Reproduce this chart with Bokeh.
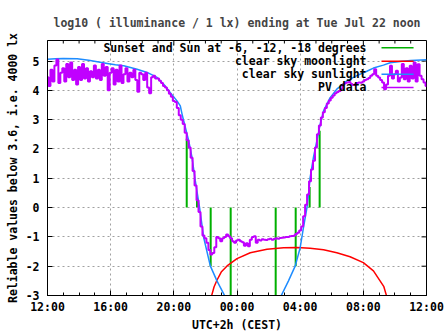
import numpy as np
from bokeh.plotting import figure
from bokeh.models import Range1d, FixedTicker, Label
from bokeh.embed import file_html
from bokeh.resources import INLINE

# ---------------- text ----------------
title_text = "log10 ( illuminance / 1 lx) ending at Tue Jul 22 noon"
x_label = "UTC+2h (CEST)"
y_label = "Reliable values below 3.6, i.e. 4000 lx"

x_tick_hours = [0, 4, 8, 12, 16, 20, 24]          # hours since 12:00
x_tick_labels = ["12:00", "16:00", "20:00", "00:00", "04:00", "08:00", "12:00"]
x_minor_hours = list(range(0, 25))
y_ticks = [-3, -2, -1, 0, 1, 2, 3, 4, 5]
y_tick_labels = ["-3", "-2", "-1", "0", "1", "2", "3", "4", "5"]

legend_labels = ["Sunset and Sun at -6, -12, -18 degrees", "clear sky moonlight",
                 "clear sky sunlight", "PV data"]

# ---------------- data ----------------
# sunset / sunrise and sun at -6, -12, -18 degrees (clock time, line top value)
sun_event_times = ["20:49", "21:28", "22:20", "23:36", "02:27", "03:43", "04:36", "05:14"]
sun_event_heights = [2.35, 0.4, -2.0, -3.0, -3.0, -2.0, 0.7, 2.62]

# clear sky sunlight, evening and morning (hours since 12:00, log10 lx)
sun_eve_h = [0.0, 0.5, 1.0, 1.88, 2.61, 3.24, 3.88, 4.30, 4.83, 5.67, 6.31, 6.94, 7.36,
             7.78, 8.20, 8.41, 8.52, 8.73, 8.94, 9.15, 9.36, 9.63, 9.89, 10.31, 10.73, 11.26]
sun_eve_v = [5.06, 5.08, 5.09, 5.08, 5.03, 4.97, 4.91, 4.87, 4.84, 4.72, 4.61, 4.44, 4.21,
             3.92, 3.64, 3.47, 3.19, 2.73, 2.28, 1.71, 0.91, 0.0, -1.02, -1.99, -2.5, -3.05]
sun_morn_h = [14.76, 15.26, 15.69, 16.0, 16.21, 16.43, 16.53, 16.63, 16.84, 17.06, 17.27,
              17.48, 17.9, 18.32, 18.96, 19.59, 20.22, 20.64, 21.27, 21.7, 22.33, 23.0, 24.0]
sun_morn_v = [-3.05, -2.5, -1.99, -1.37, -0.68, 0.0, 0.46, 1.02, 1.71, 2.28, 2.85,
              3.30, 3.75, 4.04, 4.32, 4.50, 4.65, 4.76, 4.86, 4.94, 4.98, 5.02, 5.04]

# clear sky moonlight
moon_h = [10.37, 10.55, 10.73, 11.0, 11.37, 12.0, 12.84, 13.9, 14.95, 15.8, 16.63, 17.48,
          18.32, 19.16, 20.0, 20.64, 21.06, 21.3, 21.49]
moon_v = [-3.05, -2.7, -2.48, -2.2, -1.99, -1.74, -1.54, -1.42, -1.37, -1.36, -1.39, -1.44,
          -1.54, -1.68, -1.88, -2.16, -2.5, -2.7, -3.05]

# PV data, one reading every 7.5 minutes starting 12:00
pv_start_hour = 0.0
pv_step_hours = 0.125
pv_values = [
    4.45, 4.15, 4.70, 4.30, 4.85, 5.05, 4.25, 4.60,
    4.75, 4.30, 4.90, 4.45, 4.95, 4.35, 4.70, 4.20,
    4.80, 4.35, 4.90, 4.40, 4.75, 4.30, 4.65, 4.45,
    4.85, 4.40, 4.70, 4.35, 4.90, 4.50, 4.80, 4.00,
    4.60, 4.75, 4.20, 4.70, 4.30, 4.85, 4.25, 4.55,
    4.75, 4.30, 4.60, 4.45, 4.70, 4.35, 3.95, 4.60,
    4.55, 4.35, 4.60, 4.10, 3.90, 4.45, 4.50, 4.40,
    4.40, 4.33, 4.25, 4.15, 4.10, 4.00, 3.88, 3.78,
    3.64, 3.60, 3.40, 3.15, 3.00, 2.85, 2.55, 2.30,
    2.05, 1.70, 1.25, 0.75, 0.25, -0.15, -0.65, -0.95,
    -1.05, -1.20, -1.45, -1.60, -1.55, -1.35, -1.00, -1.05,
    -1.15, -1.05, -1.00, -0.92, -0.98, -1.05, -1.15, -1.20,
    -1.12, -1.10, -1.15, -1.18, -1.30, -1.22, -1.32, -1.10,
    -1.00, -0.98, -1.20, -1.10, -1.12, -1.08, -1.10, -1.11,
    -1.08, -1.06, -1.10, -1.07, -1.05, -1.06, -1.04, -1.03,
    -1.02, -1.00, -1.00, -0.98, -0.97, -0.96, -0.90, -0.86,
    -0.78, -0.65, -0.30, 0.10, 0.45, 0.90, 1.30, 1.60,
    2.05, 2.50, 2.80, 3.07, 3.25, 3.40, 3.55, 3.65,
    3.75, 3.82, 3.90, 3.94, 3.98, 4.05, 4.20, 4.25,
    4.27, 4.28, 4.22, 4.18, 4.21, 4.25, 4.27, 4.26,
    4.30, 4.35, 4.38, 4.42, 4.50, 4.55, 4.72, 4.50,
    4.44, 4.35, 4.27, 4.04, 4.20, 4.50, 4.84, 4.40,
    4.55, 4.67, 4.30, 4.44, 4.90, 4.38, 4.75, 4.30,
    4.84, 4.40, 4.95, 4.30, 4.89, 4.50, 4.38, 4.27,
    4.15,
]

# ---------------- helpers ----------------
def hours_since_noon(clock):
    hh, mm = (int(s) for s in clock.split(":"))
    return ((hh - 12) % 24) + mm / 60.0

ev_h = [hours_since_noon(t) for t in sun_event_times]
pv_h = pv_start_hour + pv_step_hours * np.arange(len(pv_values))

FONT = "DejaVu Sans Mono"
FS = "11.5px"
C_GREEN = "#00b000"
C_RED = "#ff0000"
C_BLUE = "#1e8cff"
C_PURPLE = "#c000ff"

W, H = 447, 335
BL, BR, BT, BB = 47, 21, 40, 40
X0, X1, Y0, Y1 = 0, 24, -3, 5.7
px_per_x = (W - BL - BR) / (X1 - X0)
px_per_y = (H - BT - BB) / (Y1 - Y0)

p = figure(width=W, height=H, output_backend="svg", toolbar_location=None,
           x_range=Range1d(X0, X1), y_range=Range1d(Y0, Y1),
           min_border_left=BL, min_border_right=BR, min_border_top=BT, min_border_bottom=BB)
p.background_fill_color = "white"
p.border_fill_color = "white"
p.outline_line_color = "black"
p.outline_line_width = 1

p.title.text = title_text
p.title.align = "center"
p.title.text_font = FONT
p.title.text_font_size = FS
p.title.text_font_style = "bold"
p.title.standoff = 21

# axes
p.xaxis.ticker = FixedTicker(ticks=x_tick_hours, minor_ticks=x_minor_hours)
p.yaxis.ticker = FixedTicker(ticks=y_ticks, minor_ticks=[])
p.xaxis.major_label_overrides = {h: l for h, l in zip(x_tick_hours, x_tick_labels)}
p.yaxis.major_label_overrides = {v: l for v, l in zip(y_ticks, y_tick_labels)}
for ax in (p.xaxis[0], p.yaxis[0]):
    ax.major_label_text_font = FONT
    ax.major_label_text_font_size = FS
    ax.major_label_text_font_style = "bold"
    ax.major_label_text_color = "black"
    ax.axis_label_text_font = FONT
    ax.axis_label_text_font_size = FS
    ax.axis_label_text_font_style = "bold"
    ax.axis_label_text_color = "black"
    ax.axis_line_color = "black"
    ax.major_tick_line_color = "black"
    ax.minor_tick_line_color = "black"
    ax.major_tick_in = 5
    ax.major_tick_out = 0
    ax.minor_tick_in = 3
    ax.minor_tick_out = 0
p.xaxis.axis_label = x_label
p.yaxis.axis_label = y_label
p.xaxis.major_label_standoff = 4
p.yaxis.major_label_standoff = 8
p.xaxis.axis_label_standoff = 1
p.yaxis.axis_label_standoff = 3

# grid
p.xgrid.ticker = FixedTicker(ticks=x_tick_hours)
p.ygrid.ticker = FixedTicker(ticks=y_ticks)
for g in (p.xgrid[0], p.ygrid[0]):
    g.grid_line_color = "#a0a0a0"
    g.grid_line_dash = "2 3"
    g.grid_line_width = 1

# mirrored ticks on the top and right border
top_len = [5 if h in x_tick_hours else 3 for h in x_minor_hours]
p.segment(x0=x_minor_hours, y0=[Y1] * len(x_minor_hours), x1=x_minor_hours,
          y1=[Y1 - l / px_per_y for l in top_len], line_color="black", line_width=1)
p.segment(x0=[X1] * len(y_ticks), y0=y_ticks, x1=[X1 - 5 / px_per_x] * len(y_ticks),
          y1=y_ticks, line_color="black", line_width=1)

# data
p.segment(x0=ev_h, y0=[0] * len(ev_h), x1=ev_h, y1=sun_event_heights,
          line_color=C_GREEN, line_width=2)
p.line(moon_h, moon_v, line_color=C_RED, line_width=1.5)
p.line(sun_eve_h, sun_eve_v, line_color=C_BLUE, line_width=1.5)
p.line(sun_morn_h, sun_morn_v, line_color=C_BLUE, line_width=1.5)
p.step(pv_h, pv_values, mode="center", line_color=C_PURPLE, line_width=2)

# key (gnuplot style: right-aligned text, sample line to the right)
key_rows = [5.45, 4.99, 4.55, 4.10]
key_colors = [C_GREEN, C_RED, C_BLUE, C_PURPLE]
key_text_right = 20.2
key_x0, key_x1 = 21.15, 23.18
for txt, yv, col in zip(legend_labels, key_rows, key_colors):
    p.add_layout(Label(x=key_text_right, y=yv, text=txt, text_align="right",
                       text_baseline="middle", text_font=FONT, text_font_size=FS,
                       text_font_style="bold", text_color="black"))
    p.segment(x0=[key_x0], y0=[yv], x1=[key_x1], y1=[yv], line_color=col, line_width=1.5)

open("out.html", "w").write(file_html(p, INLINE))
